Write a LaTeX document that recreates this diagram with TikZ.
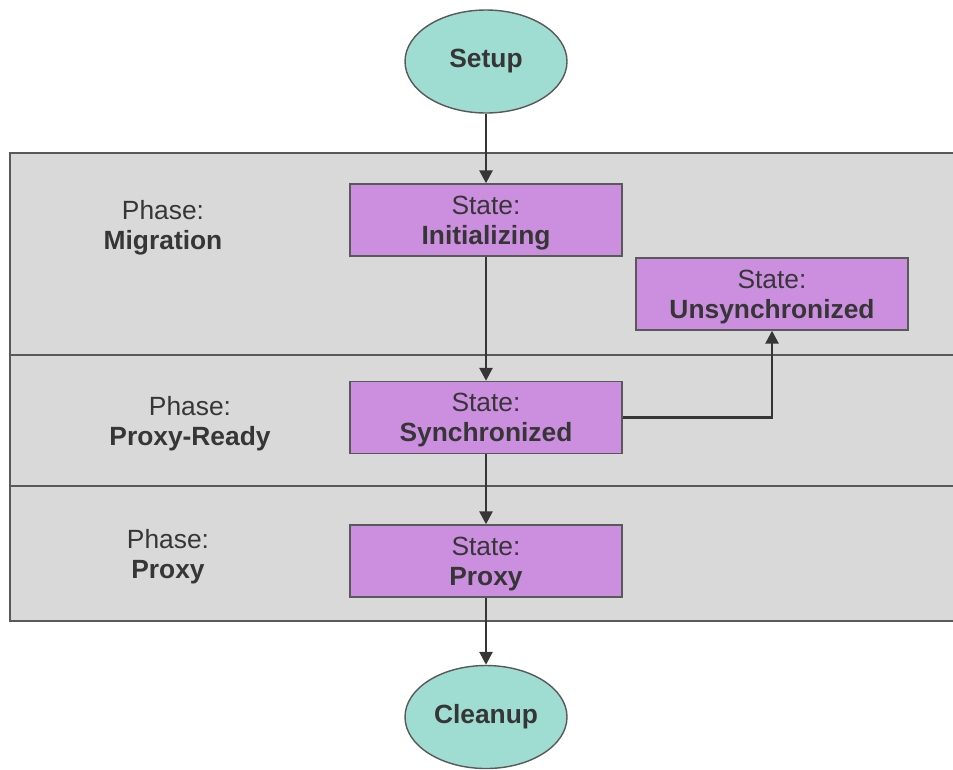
\documentclass[tikz,border=0pt]{standalone}
\usepackage{fontspec}
\setmainfont{Liberation Sans}
\usetikzlibrary{arrows.meta,positioning,shapes.geometric}

\definecolor{panelgray}{HTML}{D9D9D9}
\definecolor{edgegray}{HTML}{595959}
\definecolor{inkgray}{HTML}{363636}
\definecolor{endteal}{HTML}{9FDCD2}
\definecolor{statepurple}{HTML}{CC8FE0}

\tikzset{
  endpoint/.style={draw=edgegray,line width=0.8pt,ellipse,fill=endteal,minimum width=3.24cm,minimum height=2.06cm,inner sep=0pt,font=\fontsize{15}{17}\selectfont\bfseries,text=inkgray},
  statebox/.style={draw=edgegray,line width=0.8pt,fill=statepurple,minimum width=5.44cm,minimum height=1.44cm,align=center,inner sep=2pt,text depth=0pt,font=\fontsize{15}{17}\selectfont,text=inkgray},
  phaselabel/.style={align=center,font=\fontsize{15}{17}\selectfont,text depth=0pt,text=inkgray},
  panel/.style={draw=edgegray,fill=panelgray,line width=0.9pt},
  flow/.style={draw=inkgray,line width=1.5pt,-{Triangle[length=2.6mm,width=2.6mm]}}
}

\begin{document}
\begin{tikzpicture}
\useasboundingbox (0,0) rectangle (19.06,-15.38);
% phase panels
\draw[panel] (0.2,-3.06) rectangle (19.3,-7.10);
\draw[panel] (0.2,-7.10) rectangle (19.3,-9.72);
\draw[panel] (0.2,-9.72) rectangle (19.3,-12.42);
\node[phaselabel] (pmig) at (3.26,-4.50) {Phase:\\\textbf{Migration}};
\node[phaselabel] (pready) at (3.80,-8.42) {Phase:\\\textbf{Proxy-Ready}};
\node[phaselabel] (pproxy) at (3.36,-11.08) {Phase:\\\textbf{Proxy}};
% states
\node[endpoint] (setup) at (9.72,-1.23) {Setup};
\node[statebox] (init) at (9.72,-4.40) {State:\\\textbf{Initializing}};
\node[statebox] (unsync) at (15.44,-5.88) {State:\\\textbf{Unsynchronized}};
\node[statebox] (sync) at (9.72,-8.35) {State:\\\textbf{Synchronized}};
\node[statebox] (proxy) at (9.72,-11.22) {State:\\\textbf{Proxy}};
\node[endpoint] (cleanup) at (9.72,-14.34) {Cleanup};
% transitions
\draw[flow] (setup.south) -- (init.north);
\draw[flow] (init.south) -- (sync.north);
\draw[flow] (sync.south) -- (proxy.north);
\draw[flow] (proxy.south) -- (cleanup.north);
\draw[flow] (sync.east) -| (unsync.south);
\end{tikzpicture}
\end{document}
